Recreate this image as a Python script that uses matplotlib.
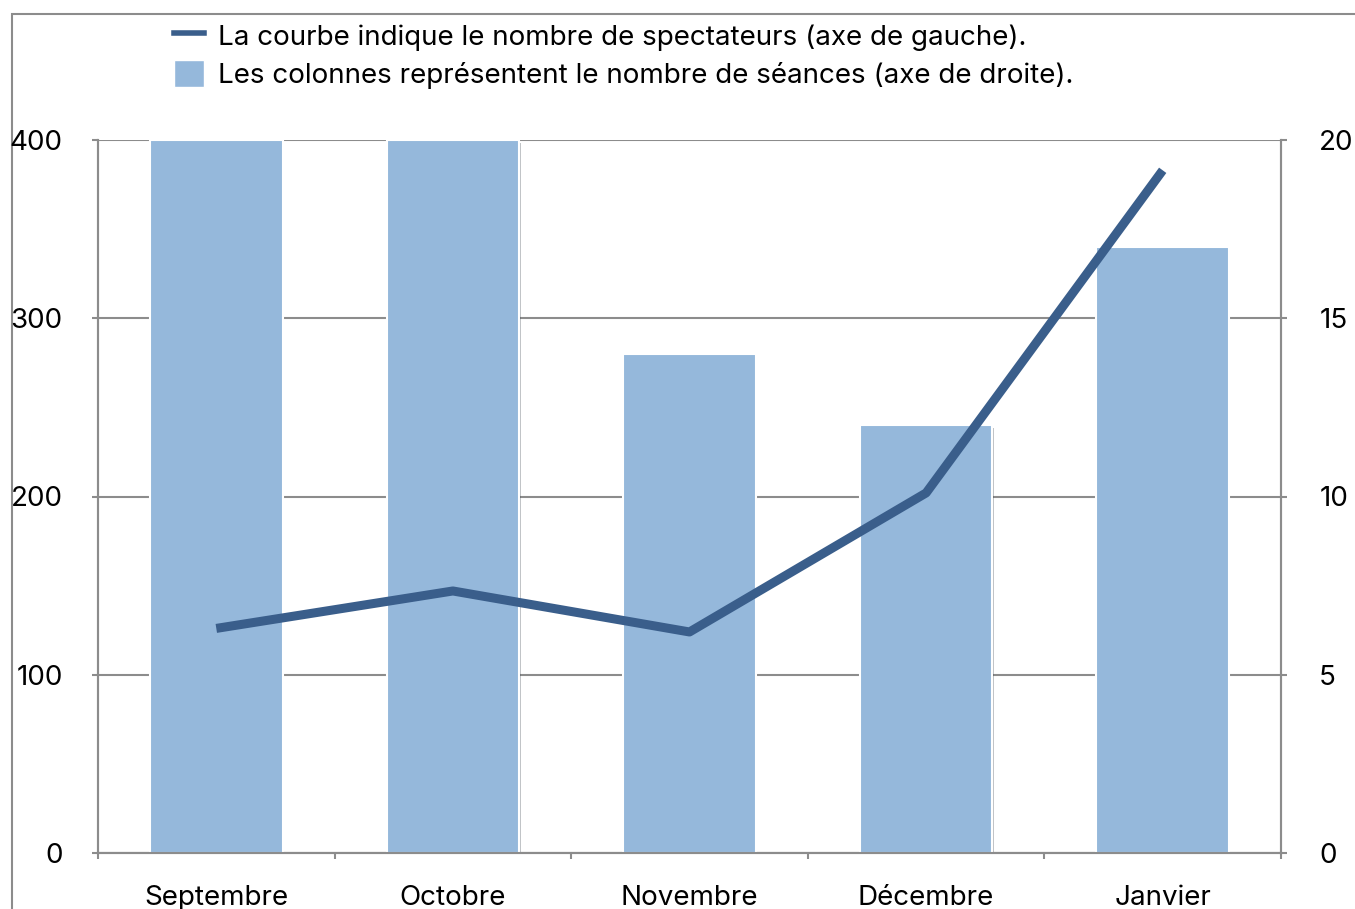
import matplotlib.pyplot as plt
import matplotlib.patheffects as pe
from matplotlib.patches import Rectangle, Patch
from matplotlib.lines import Line2D

# data
months = ["Septembre", "Octobre", "Novembre", "Décembre", "Janvier"]
spectateurs = [126, 147, 124, 202, 383]   # left axis
seances = [20, 20, 14, 12, 17]            # right axis

BAR_COLOR = "#95b8db"
LINE_COLOR = "#3a5e8b"
GRID_COLOR = "#8c8c8c"

plt.rcParams["font.family"] = ["Inter", "DejaVu Sans"]
FS = 20

fig = plt.figure(figsize=(13.55, 9.09), dpi=100)

# axes for the bars (right scale), drawn underneath
ax2 = fig.add_axes([98 / 1355, 1 - 853 / 909, (1281 - 98) / 1355, (853 - 140) / 909])
ax1 = ax2.twinx()
ax1.set_zorder(ax2.get_zorder() + 1)
ax1.patch.set_visible(False)

x = list(range(len(months)))
bars = ax2.bar(x, seances, width=0.56, color=BAR_COLOR, edgecolor="white",
               linewidth=1.5, zorder=3)
for b in bars:
    b.set_path_effects([pe.SimplePatchShadow(offset=(1, -2), alpha=0.3), pe.Normal()])

ax2.set_ylim(0, 20)
ax2.set_yticks([0, 5, 10, 15, 20])
ax2.set_xlim(-0.5, 4.5)
ax2.yaxis.tick_right()
ax2.grid(axis="y", color=GRID_COLOR, linewidth=1.5, zorder=0)
ax2.set_axisbelow(True)

ax1.plot(x, spectateurs, color=LINE_COLOR, linewidth=6.5, solid_capstyle="butt")
ax1.set_ylim(0, 400)
ax1.set_yticks([0, 100, 200, 300, 400])
ax1.yaxis.tick_left()

# x ticks: labels at centres, tick marks at category boundaries
ax2.set_xticks(x)
ax2.set_xticklabels(months)
ax2.set_xticks([i - 0.5 for i in range(len(months) + 1)], minor=True)
ax2.tick_params(axis="x", which="major", length=0, pad=23, labelsize=FS)
ax2.tick_params(axis="x", which="minor", length=4.5, width=1.5, color=GRID_COLOR)
ax2.tick_params(axis="y", length=4.5, width=1.5, color=GRID_COLOR, pad=23, labelsize=FS,
                labelright=True, labelleft=False)
ax1.tick_params(axis="y", length=4.5, width=1.5, color=GRID_COLOR, pad=21, labelsize=FS)

for ax in (ax1, ax2):
    for side in ("left", "right", "bottom", "top"):
        ax.spines[side].set_color(GRID_COLOR)
        ax.spines[side].set_linewidth(1.5)
    ax.spines["top"].set_visible(False)

# outer frame, running off the right and bottom edges
fig.add_artist(Rectangle((12 / 1355, -0.1), 1.2, 1.1 - 14 / 909, transform=fig.transFigure,
                         fill=False, edgecolor=GRID_COLOR, linewidth=1.5))

handles = [Line2D([], [], color=LINE_COLOR, linewidth=4),
           Patch(facecolor=BAR_COLOR, edgecolor="white")]
labels = ["La courbe indique le nombre de spectateurs (axe de gauche).",
          "Les colonnes représentent le nombre de séances (axe de droite)."]
fig.legend(handles, labels, loc="upper left", bbox_to_anchor=(160 / 1355, 1 - 8 / 909),
           frameon=False, fontsize=FS, handlelength=1.1, handleheight=1.1,
           handletextpad=0.5, labelspacing=0.35, borderpad=0)

fig.savefig("out.png", dpi=100)
